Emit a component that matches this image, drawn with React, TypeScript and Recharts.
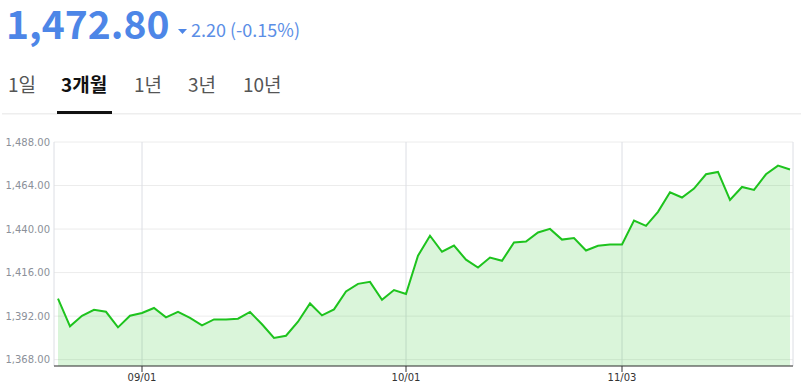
import React from 'react';
import { AreaChart, Area, XAxis, YAxis, CartesianGrid } from 'recharts';

const dates: string[] = [
  '08/21', '08/22', '08/25', '08/26', '08/27', '08/28', '08/29',
  '09/01', '09/02', '09/03', '09/04', '09/05', '09/08', '09/09', '09/10', '09/11', '09/12',
  '09/15', '09/16', '09/17', '09/18', '09/19', '09/22', '09/23', '09/24', '09/25', '09/26',
  '09/29', '09/30',
  '10/01', '10/02', '10/10', '10/13', '10/14', '10/15', '10/16', '10/17', '10/20', '10/21',
  '10/22', '10/23', '10/24', '10/27', '10/28', '10/29', '10/30', '10/31',
  '11/03', '11/04', '11/05', '11/06', '11/07', '11/10', '11/11', '11/12', '11/13', '11/14',
  '11/17', '11/18', '11/19', '11/20', '11/21',
];

const prices: number[] = [
  1401.6, 1386.4, 1392.2, 1395.5, 1394.4, 1385.8, 1392.2,
  1393.7, 1396.5, 1391.3, 1394.4, 1391.0, 1386.9, 1390.2, 1390.2, 1390.6, 1394.3,
  1387.5, 1380.0, 1381.2, 1388.9, 1399.0, 1392.4, 1395.7, 1405.6, 1409.8, 1410.9,
  1401.0, 1406.4,
  1404.2, 1425.3, 1436.3, 1427.5, 1430.9, 1423.1, 1418.8, 1424.3, 1422.5, 1432.6,
  1433.1, 1438.1, 1440.1, 1434.2, 1435.0, 1428.2, 1430.8, 1431.5,
  1431.5, 1444.7, 1441.8, 1449.5, 1460.3, 1457.4, 1462.3, 1470.2, 1471.5, 1456.1,
  1463.2, 1461.6, 1470.2, 1475.0, 1472.8,
];

const xTickLabels: string[] = ['09/01', '10/01', '11/03'];
const yTicks: number[] = [1368, 1392, 1416, 1440, 1464, 1488];
const tabs: string[] = ['1일', '3개월', '1년', '3년', '10년'];
const tabX: number[] = [8, 61, 134, 188, 243];
const activeTab = 1;

const headline = '1,472.80';
const change = '2.20 (-0.15%)';

const data = prices.map((v, i) => ({ i, v, d: dates[i] }));
const xTicks = xTickLabels.map((l) => dates.indexOf(l));

const FONT = '"Noto Sans CJK KR", "Noto Sans", sans-serif';
const TICK_FONT = '"DejaVu Sans", sans-serif';

const fmt = (n: number) =>
  n.toLocaleString('en-US', { minimumFractionDigits: 2, maximumFractionDigits: 2 });

export default function App() {
  return (
    <div style={{ position: 'absolute', left: 0, top: 0, width: 801, height: 392, background: '#fff' }}>
      <div style={{ position: 'absolute', left: 0, top: 0 }}>
        <AreaChart
          width={801}
          height={392}
          data={data}
          margin={{ top: 142, right: 8, bottom: 0, left: 0 }}
        >
          <CartesianGrid horizontal={true} vertical={false} stroke="#ececec" strokeWidth={1} />
          <CartesianGrid horizontal={false} vertical={true} stroke="#dcdee4" strokeWidth={1} />
          <XAxis
            dataKey="i"
            type="number"
            domain={[0, prices.length - 1]}
            ticks={xTicks}
            tickFormatter={(i: number) => dates[i]}
            padding={{ left: 4, right: 3 }}
            height={26}
            axisLine={{ stroke: '#333', strokeWidth: 1 }}
            tickLine={{ stroke: '#333' }}
            tickSize={6}
            tickMargin={2}
            tick={{ fill: '#333', fontSize: 10, fontFamily: TICK_FONT }}
            interval={0}
          />
          <YAxis
            domain={[1364.5, 1488]}
            ticks={yTicks}
            tickFormatter={fmt}
            width={54}
            axisLine={false}
            tickLine={false}
            tickSize={0}
            tickMargin={4}
            tick={{ fill: '#8b9099', fontSize: 10, fontFamily: TICK_FONT }}
            interval={0}
            allowDataOverflow={true}
          />
          <Area
            type="linear"
            dataKey="v"
            stroke="#1ec31e"
            strokeWidth={2}
            fill="#22c322"
            fillOpacity={0.17}
            dot={false}
            activeDot={false}
            isAnimationActive={false}
          />
        </AreaChart>
      </div>
      <div
        style={{
          position: 'absolute',
          left: 6,
          top: 6,
          height: 32,
          lineHeight: '32px',
          fontFamily: FONT,
          fontWeight: 700,
          fontSize: 39,
          color: '#4d86e7',
          whiteSpace: 'nowrap',
        }}
      >
        {headline}
      </div>
      <svg
        width={801}
        height={130}
        style={{ position: 'absolute', left: 0, top: 0 }}
      >
        <polygon points="178,29 187,29 182.5,34" fill="#4d86e7" />
        <text x={191} y={37} fontFamily={FONT} fontWeight={400} fontSize={18} fill="#5b8ee6">
          {change}
        </text>
        {tabs.map((t, k) => (
          <text
            key={t}
            x={tabX[k]}
            y={92}
            fontFamily={FONT}
            fontWeight={k === activeTab ? 700 : 400}
            fontSize={19}
            fill={k === activeTab ? '#111' : '#555'}
          >
            {t}
          </text>
        ))}
        <rect x={2} y={113} width={799} height={1.5} fill="#eeeeee" />
        <rect x={57} y={111} width={55} height={3} fill="#111" />
      </svg>
    </div>
  );
}
